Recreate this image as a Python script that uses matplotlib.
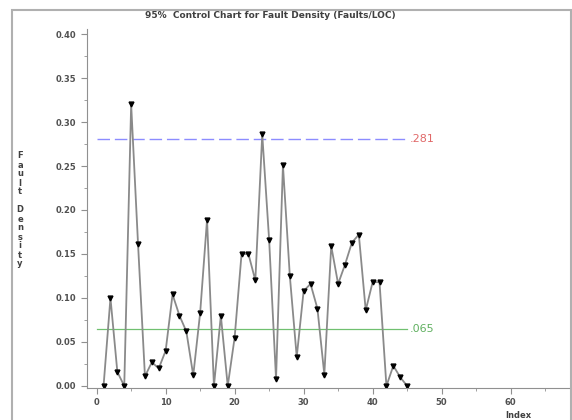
import matplotlib.pyplot as plt
from matplotlib.patches import Rectangle
from matplotlib.ticker import MultipleLocator

# fault density per index
index = list(range(1, 46))
density = [0.000, 0.100, 0.016, 0.000, 0.320, 0.161, 0.011, 0.027, 0.020, 0.040,
           0.104, 0.080, 0.062, 0.012, 0.083, 0.189, 0.000, 0.080, 0.000, 0.055,
           0.150, 0.150, 0.120, 0.286, 0.166, 0.008, 0.251, 0.125, 0.033, 0.108,
           0.116, 0.088, 0.013, 0.159, 0.116, 0.138, 0.163, 0.172, 0.086, 0.118,
           0.118, 0.000, 0.023, 0.010, 0.000]

ucl = 0.281
center = 0.065
line_span = [0, 45]

fig = plt.figure(figsize=(5.72, 4.2), dpi=100)
ax = fig.add_axes([87 / 572, 32 / 420, 485 / 572, 359 / 420])

# outer frame like the original export
fig.patches.append(Rectangle((12 / 572, -0.1), (571 - 12) / 572, 1.1 - 10 / 420,
                             transform=fig.transFigure, fill=False,
                             edgecolor="#b0b0b0", linewidth=1.5))

ax.plot(line_span, [ucl, ucl], color="#8c8cff", linewidth=1, dashes=(9, 3.5))
ax.plot(line_span, [center, center], color="#70c070", linewidth=0.9)
ax.text(45.4, ucl, ".281", color="#e06868", fontsize=8, va="center", ha="left")
ax.text(45.4, center, ".065", color="#60b060", fontsize=8, va="center", ha="left")

ax.plot(index, density, color="#8a8a8a", linewidth=1.3,
        marker="v", markersize=3.5, markerfacecolor="black", markeredgecolor="black")

ax.set_xlim(-1.4, 68.9)
ax.set_ylim(-0.0023, 0.4057)
ax.xaxis.set_major_locator(MultipleLocator(10))
ax.xaxis.set_minor_locator(MultipleLocator(5))
ax.yaxis.set_major_locator(MultipleLocator(0.05))
ax.yaxis.set_minor_locator(MultipleLocator(0.025))
ax.yaxis.set_major_formatter(lambda v, p: f"{v:.2f}")

for s in ["top", "right"]:
    ax.spines[s].set_visible(False)
for s in ["left", "bottom"]:
    ax.spines[s].set_color("#909090")
ax.tick_params(which="both", colors="#909090", labelcolor="#505050",
               labelsize=6, direction="out")
ax.tick_params(which="major", length=4)
ax.tick_params(which="minor", length=2.5)
for lab in ax.get_xticklabels() + ax.get_yticklabels():
    lab.set_fontweight("bold")

fig.text(270 / 572, 1 - 15 / 420,
         "95%  Control Chart for Fault Density (Faults/LOC)",
         ha="center", va="center", fontsize=6.5, fontweight="bold", color="#404040")
fig.text(20 / 572, 1 - 210 / 420, "\n".join("Fault Density"),
         ha="center", va="center", fontsize=6, fontweight="bold",
         color="#404040", linespacing=1.0)
fig.text(518 / 572, 1 - 416 / 420, "Index", ha="center", va="center",
         fontsize=6, fontweight="bold", color="#404040")

plt.savefig("out.png", dpi=100)
